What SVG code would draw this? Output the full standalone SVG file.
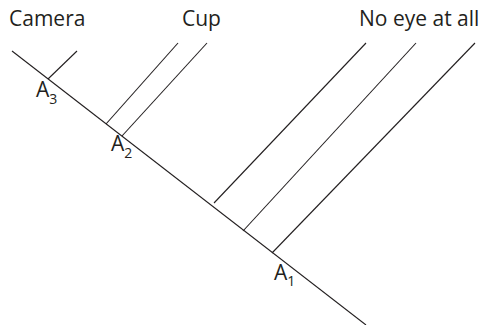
<svg xmlns="http://www.w3.org/2000/svg" width="484" height="325" viewBox="0 0 484 325">
<style>
.ln{stroke:#231f20;stroke-width:1.1;fill:none}
.lbl{font-family:"Open Sans","Liberation Sans",Arial,sans-serif;font-size:21px;fill:#231f20}
.sub{font-size:14px}
</style>
<rect width="484" height="325" fill="#fff"/>
<g id="connectors">
<line class="ln" x1="12" y1="51" x2="366" y2="325"/>
<line class="ln" x1="48" y1="79" x2="77" y2="51"/>
<line class="ln" x1="106" y1="124" x2="178" y2="43"/>
<line class="ln" x1="122" y1="136" x2="207" y2="43"/>
<line class="ln" x1="214" y1="203" x2="366" y2="43"/>
<line class="ln" x1="243" y1="231" x2="416" y2="43"/>
<line class="ln" x1="272" y1="253" x2="475" y2="43"/>
</g>
<g id="camera"><text class="lbl" x="9" y="26">Camera</text></g>
<g id="cup"><text class="lbl" x="182" y="26">Cup</text></g>
<g id="noeye"><text class="lbl" x="359" y="26">No eye at all</text></g>
<g id="A3"><text class="lbl" x="36" y="97">A<tspan class="sub" dy="7">3</tspan></text></g>
<g id="A2"><text class="lbl" x="111" y="151">A<tspan class="sub" dy="7">2</tspan></text></g>
<g id="A1"><text class="lbl" x="274" y="280">A<tspan class="sub" dy="6">1</tspan></text></g>
</svg>
